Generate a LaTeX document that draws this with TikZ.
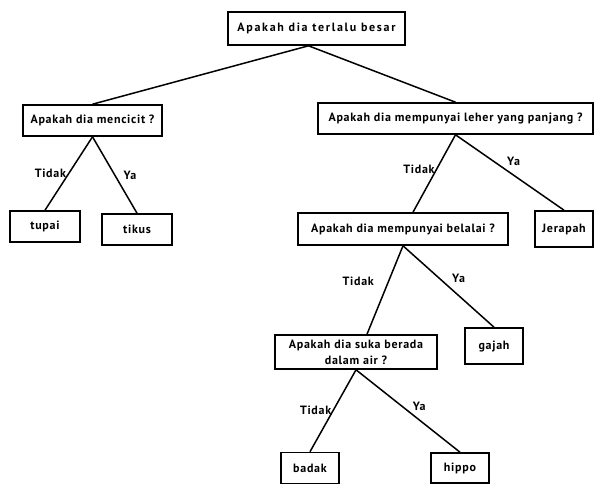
\documentclass[tikz,border=0pt]{standalone}
\usepackage{fontspec}
\setmainfont{PT Sans}[LetterSpace=6]
\newfontfamily\widefont{PT Sans}[LetterSpace=14]
\usetikzlibrary{positioning}
\begin{document}
\begin{tikzpicture}[x=1pt,y=-1pt,
  box/.style={draw,line width=1.6pt,inner sep=0pt,align=center,font=\bfseries\fontsize{12}{13}\selectfont},
  lbl/.style={font=\bfseries\fontsize{12}{13}\selectfont,inner sep=0pt},
  con/.style={line width=1.5pt}]
\useasboundingbox (0,0) rectangle (594,485);
\node[box,minimum width=177pt,minimum height=33pt,font=\widefont\bfseries\fontsize{12}{13}\selectfont] (top) at (316.5,28.5) {Apakah dia terlalu besar};
\node[box,minimum width=139pt,minimum height=31pt] (lq) at (92.5,120.5) {Apakah dia mencicit ?};
\node[box,minimum width=275pt,minimum height=31pt] (rq) at (455.5,118.5) {Apakah dia mempunyai leher yang panjang ?};
\node[box,minimum width=70pt,minimum height=31pt] (tupai) at (45,226.5) {tupai};
\node[box,minimum width=70pt,minimum height=31pt] (tikus) at (137,229.5) {tikus};
\node[box,minimum width=210pt,minimum height=32pt] (belalai) at (403,229) {Apakah dia mempunyai belalai ?};
\node[box,minimum width=58pt,minimum height=36pt] (jerapah) at (564,229) {Jerapah};
\node[box,minimum width=162pt,minimum height=34pt] (suka) at (356,352) {Apakah dia suka berada\\[3pt]dalam air ?};
\node[box,minimum width=58pt,minimum height=36pt] (gajah) at (494,346) {gajah};
\node[box,minimum width=58pt,minimum height=31pt] (badak) at (310,468) {badak};
\node[box,minimum width=58pt,minimum height=30pt] (hippo) at (460,468) {hippo};

\draw[con] ([xshift=-8pt]top.south) -- (lq.north);
\draw[con] ([xshift=-8pt]top.south) -- (rq.north);
\draw[con] (lq.south) -- node[lbl,left=2pt] {Tidak} (tupai.north);
\draw[con] (lq.south) -- node[lbl,right=8pt] {Ya} (tikus.north);
\draw[con] (rq.south) -- node[lbl,left=1pt,pos=0.45] {Tidak} ([xshift=10pt]belalai.north);
\draw[con] (rq.south) -- node[lbl,above right=2pt and 2pt,pos=0.45] {Ya} (jerapah.north);
\draw[con] (belalai.south) -- node[lbl,left=14pt,pos=0.4] {Tidak} ([xshift=11pt]suka.north);
\draw[con] (belalai.south) -- node[lbl,right=12pt,pos=0.4] {Ya} (gajah.north);
\draw[con] (suka.south) -- node[lbl,left=1pt] {Tidak} (badak.north);
\draw[con] (suka.south) -- node[lbl,above right=0pt and 4pt] {Ya} (hippo.north);
\end{tikzpicture}
\end{document}
